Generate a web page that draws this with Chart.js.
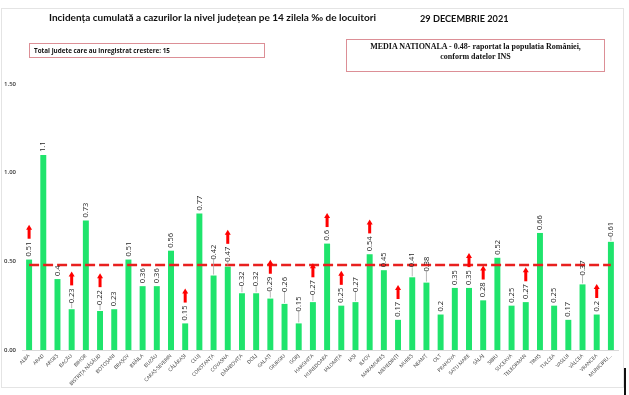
<!DOCTYPE html>
<html>
<head>
<meta charset="utf-8">
<script src="https://cdn.jsdelivr.net/npm/chart.js@4"></script>
<style>
  body { margin: 0; background: #fff; }
  #wrap { position: relative; width: 629px; height: 395px; overflow: hidden; }
  #chart { position: absolute; left: 0; top: 0; }
  .frame { position: absolute; left: 1px; top: 8px; width: 621px; height: 378px; border: 1px solid #e4e4e4; }
  .edge { position: absolute; left: 624px; top: 368px; width: 2px; height: 27px; background: #111; }
  .title { position: absolute; font-family: Lato, sans-serif; font-weight: 700; color: #111; white-space: nowrap; }
  .box { position: absolute; border: 1px solid #dc8f96; box-sizing: border-box; }
  #boxLeft { left: 29px; top: 43px; width: 236px; height: 15px; }
  #boxLeft span { position: absolute; left: 4px; top: 2px; font: 700 6.3px "Open Sans", sans-serif; color: #111; white-space: nowrap; }
  #boxRight { left: 346px; top: 39px; width: 259px; height: 33px; text-align: center;
              font: 700 8px "Liberation Serif", serif; line-height: 10px; padding-top: 2px; color: #111; }
</style>
</head>
<body>
<div id="wrap">
  <canvas id="chart" width="629" height="395"></canvas>
  <div class="frame"></div>
  <div class="edge"></div>
  <div class="title" style="left:49px; top:11px; font-size:10px;">Incidența cumulată a cazurilor la nivel județean pe 14 zilela ‰ de locuitori</div>
  <div class="title" style="left:420px; top:13px; font-size:9.2px;">29 DECEMBRIE 2021</div>
  <div class="box" id="boxLeft"><span>Total judete care au inregistrat crestere: 15</span></div>
  <div class="box" id="boxRight">MEDIA NATIONALA  - 0.48-  raportat la populatia României,<br>conform datelor INS</div>
</div>
<script>
// Judete si incidenta pe 14 zile (la mia de locuitori)
const counties = ['ALBA', 'ARAD', 'ARGEȘ', 'BACĂU', 'BIHOR', 'BISTRIȚA NĂSĂUD', 'BOTOȘANI', 'BRAȘOV', 'BRĂILA',
    'BUZĂU', 'CARAȘ-SEVERIN', 'CĂLĂRAȘI', 'CLUJ', 'CONSTANȚA', 'COVASNA', 'DÂMBOVIȚA', 'DOLJ', 'GALAȚI',
    'GIURGIU', 'GORJ', 'HARGHITA', 'HUNEDOARA', 'IALOMIȚA', 'IAȘI', 'ILFOV', 'MARAMUREȘ', 'MEHEDINȚI',
    'MUREȘ', 'NEAMȚ', 'OLT', 'PRAHOVA', 'SATU MARE', 'SĂLAJ', 'SIBIU', 'SUCEAVA', 'TELEORMAN', 'TIMIȘ',
    'TULCEA', 'VASLUI', 'VÂLCEA', 'VRANCEA', 'MUNICIPIU...'];
const incidence = [0.51, 1.1, 0.4, 0.23, 0.73, 0.22, 0.23, 0.51, 0.36,
    0.36, 0.56, 0.15, 0.77, 0.42, 0.47, 0.32, 0.32, 0.29,
    0.26, 0.15, 0.27, 0.6, 0.25, 0.27, 0.54, 0.45, 0.17,
    0.41, 0.38, 0.2, 0.35, 0.35, 0.28, 0.52, 0.25, 0.27, 0.66,
    0.25, 0.17, 0.37, 0.2, 0.61];
// judete cu crestere fata de raportarea anterioara
const increasedCounties = ['ALBA', 'BACĂU', 'BISTRIȚA NĂSĂUD', 'CĂLĂRAȘI', 'COVASNA', 'GALAȚI', 'HARGHITA',
    'HUNEDOARA', 'IALOMIȚA', 'ILFOV', 'MEHEDINȚI', 'SATU MARE', 'SĂLAJ', 'TELEORMAN', 'VRANCEA'];
const nationalAverage = 0.48;
const yTicks = [0, 0.5, 1, 1.5];

// Etichete verticale deasupra barelor + sageti rosii pentru crestere
const barLabels = {
    id: 'barLabels',
    afterDatasetsDraw(chart, args, opts) {
        const ctx = chart.ctx;
        const meta = chart.getDatasetMeta(1);
        ctx.save();
        ctx.font = opts.font;
        meta.data.forEach((bar, i) => {
            const name = counties[i];
            const text = String(incidence[i]);
            const lift = opts.lift[name] || 3;
            const base = bar.y - lift;
            if (lift > 4) {
                ctx.strokeStyle = '#a6a6a6';
                ctx.lineWidth = 0.8;
                ctx.beginPath();
                ctx.moveTo(bar.x, bar.y - 1);
                ctx.lineTo(bar.x, base);
                ctx.stroke();
            }
            const w = ctx.measureText(text).width;
            ctx.save();
            ctx.translate(bar.x, base);
            ctx.rotate(-Math.PI / 2);
            ctx.fillStyle = '#262626';
            ctx.textAlign = 'left';
            ctx.textBaseline = 'middle';
            ctx.fillText(text, 0, 0);
            ctx.restore();
            if (increasedCounties.includes(name)) {
                const bottom = base - w - 3;
                const top = bottom - 14;
                ctx.fillStyle = '#ff0000';
                ctx.fillRect(bar.x - 1.5, top + 4, 3, bottom - top - 4);
                ctx.beginPath();
                ctx.moveTo(bar.x - 3, top + 5);
                ctx.lineTo(bar.x, top);
                ctx.lineTo(bar.x + 3, top + 5);
                ctx.closePath();
                ctx.fill();
            }
        });
        ctx.restore();
    }
};

new Chart(document.getElementById('chart').getContext('2d'), {
    data: {
        labels: counties,
        datasets: [{
            type: 'line',
            data: counties.map(() => nationalAverage),
            borderColor: '#e8201f',
            borderWidth: 2.5,
            borderDash: [10, 4],
            pointRadius: 0,
            order: 1
        }, {
            type: 'bar',
            data: incidence,
            backgroundColor: '#1fe46c',
            categoryPercentage: 1,
            barPercentage: 0.42,
            order: 2
        }]
    },
    options: {
        responsive: false,
        animation: false,
        layout: { padding: { left: 0, right: 11, top: 84, bottom: 0 } },
        plugins: {
            legend: { display: false },
            tooltip: { enabled: false },
            barLabels: {
                font: '7.5px "Open Sans", sans-serif',
                lift: {
                    'BACĂU': 6, 'BISTRIȚA NĂSĂUD': 6, 'CONSTANȚA': 16, 'COVASNA': 5, 'DÂMBOVIȚA': 7, 'DOLJ': 7,
                    'GALAȚI': 7, 'GIURGIU': 12, 'GORJ': 12, 'HARGHITA': 7, 'IAȘI': 10, 'MUREȘ': 10,
                    'NEAMȚ': 11, 'VÂLCEA': 9, 'MUNICIPIU...': 5
                }
            }
        },
        scales: {
            x: {
                grid: { display: false, drawTicks: false },
                border: { display: true, color: '#d9d9d9' },
                ticks: {
                    autoSkip: false,
                    minRotation: 45,
                    maxRotation: 45,
                    padding: 3,
                    color: '#404040',
                    font: { family: 'Open Sans', size: 5 }
                },
                afterFit(scale) { scale.height = 45; }
            },
            y: {
                min: 0,
                max: 1.5,
                grid: { display: false, drawTicks: false },
                border: { display: false },
                afterBuildTicks(scale) { scale.ticks = yTicks.map(v => ({ value: v })); },
                ticks: {
                    padding: 6,
                    color: '#333',
                    font: { family: 'Open Sans', size: 6, weight: '600' },
                    callback: v => v.toFixed(2)
                },
                afterFit(scale) { scale.width = 22; }
            }
        }
    },
    plugins: [barLabels]
});
</script>
</body>
</html>
